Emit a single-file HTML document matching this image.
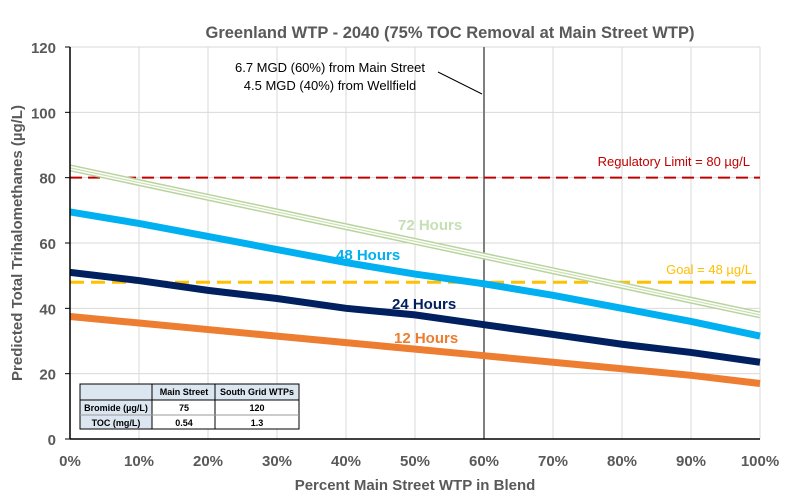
<!DOCTYPE html>
<html><head><meta charset="utf-8"><style>
body{margin:0;background:#fff;font-family:"Liberation Sans",sans-serif}
</style></head><body>
<svg id="c" width="796" height="497" xmlns="http://www.w3.org/2000/svg" font-family="Liberation Sans, sans-serif"></svg>
<script>
const categories=[0,10,20,30,40,50,60,70,80,90,100];
const h72=[83,78.5,74,69.5,65,60.5,56,51.5,47,42.5,38];
const h48=[69.5,66,62,58,54,50.5,47.5,44,40,36,31.5];
const h24=[51,48.5,45.5,43,40,38,35,32,29,26.5,23.5];
const h12=[37.5,35.5,33.5,31.5,29.5,27.5,25.5,23.5,21.5,19.5,17];
const yTicks=[0,20,40,60,80,100,120];
const regLimit=80, goal=48, blendMark=60;
const NS="http://www.w3.org/2000/svg";
const svg=document.getElementById('c');
const X0=70,X1=760,Y0=439,Y1=47;
const x=v=>X0+(X1-X0)*v/100;
const y=v=>Y0-(Y0-Y1)*v/120;
function el(t,a,p){const e=document.createElementNS(NS,t);for(const k in a)e.setAttribute(k,a[k]);(p||svg).appendChild(e);return e;}
let e;
categories.forEach(c=>{if(c>0){e=el('line',{x1:x(c),x2:x(c),y1:Y1,y2:Y0,stroke:'#d9d9d9'});

}});
yTicks.forEach(t=>{if(t>0){e=el('line',{x1:X0,x2:X1,y1:y(t),y2:y(t),stroke:'#d9d9d9'});

}
e=el('text',{x:X0-14,y:y(t)+6,'text-anchor':'end','font-size':15,'font-weight':'bold',fill:'#595959'});e.textContent=t;


el('line',{x1:X0-5,x2:X0,y1:y(t),y2:y(t),stroke:'#000'});});
categories.forEach(c=>{e=el('text',{x:x(c),y:466,'text-anchor':'middle','font-size':15,'font-weight':'bold',fill:'#595959'});e.textContent=c+'%';

});
e=el('line',{x1:x(blendMark),x2:x(blendMark),y1:Y1,y2:Y0,stroke:'#7f7f7f','stroke-width':2});


e=el('line',{x1:X0,x2:X1,y1:y(regLimit),y2:y(regLimit),stroke:'#c00000','stroke-width':2,'stroke-dasharray':'12,6'});


e=el('line',{x1:X0,x2:X1,y1:y(goal),y2:y(goal),stroke:'#ffc000','stroke-width':3,'stroke-dasharray':'14,7'});


function pts(a){return a.map((v,i)=>x(categories[i])+','+y(v)).join(' ');}
e=el('polyline',{points:pts(h72),fill:'none',stroke:'#b8d49a','stroke-width':7});


el('polyline',{points:pts(h72),fill:'none',stroke:'#fff','stroke-width':4});
el('polyline',{points:pts(h72),fill:'none',stroke:'#c9dfb3','stroke-width':1.2});
[[h48,'#00b0f0','series-48-hours'],[h24,'#002060','series-24-hours'],[h12,'#ed7d31','series-12-hours']].forEach(s=>{
e=el('polyline',{points:pts(s[0]),fill:'none',stroke:s[1],'stroke-width':7});

});
el('line',{x1:X0,x2:X0,y1:Y1,y2:Y0,stroke:'#000','stroke-width':1.5});
el('line',{x1:X0,x2:X1,y1:Y0,y2:Y0,stroke:'#000','stroke-width':1.5});
function txt(s,a,name){e=el('text',a);e.textContent=s;

return e;}
txt('Greenland WTP - 2040 (75% TOC Removal at Main Street WTP)',{x:450,y:38,'text-anchor':'middle','font-size':16.5,'font-weight':'bold',fill:'#595959'},'chart-title');
txt('Percent Main Street WTP in Blend',{x:415,y:490,'text-anchor':'middle','font-size':15,'font-weight':'bold',fill:'#595959'},'x-axis-title');
txt('Predicted Total Trihalomethanes (µg/L)',{x:0,y:0,transform:'translate(22,243) rotate(-90)','text-anchor':'middle','font-size':15,'font-weight':'bold',fill:'#595959'},'y-axis-title');
txt('72 Hours',{x:398,y:230,'font-size':15,'font-weight':'bold',fill:'#c5e0b4'},'label-72-hours');
txt('48 Hours',{x:336,y:260,'font-size':15,'font-weight':'bold',fill:'#00b0f0'},'label-48-hours');
txt('24 Hours',{x:392,y:309,'font-size':15,'font-weight':'bold',fill:'#002060'},'label-24-hours');
txt('12 Hours',{x:394,y:343,'font-size':15,'font-weight':'bold',fill:'#ed7d31'},'label-12-hours');
txt('Regulatory Limit = 80 µg/L',{x:750,y:166,'text-anchor':'end','font-size':13,fill:'#c00000'},'regulatory-limit-label');
txt('Goal = 48 µg/L',{x:752,y:274,'text-anchor':'end','font-size':13,fill:'#ffc000'},'goal-label');
txt('6.7 MGD (60%) from Main Street',{x:330,y:72,'text-anchor':'middle','font-size':13,fill:'#000'},'annotation-line1');
txt('4.5 MGD (40%) from Wellfield',{x:330,y:90,'text-anchor':'middle','font-size':13,fill:'#000'},'annotation-line2');
el('line',{x1:438,y1:72,x2:482,y2:94,stroke:'#000'});
const tg=el('g',{'font-size':9,'font-weight':'bold',fill:'#000'});


el('rect',{x:80,y:384,width:219,height:45,fill:'#fff',stroke:'#000'},tg);
el('rect',{x:80,y:384,width:72,height:45,fill:'#dce6f1'},tg);
el('rect',{x:152,y:384,width:147,height:16,fill:'#dce6f1'},tg);
el('rect',{x:80,y:384,width:219,height:45,fill:'none',stroke:'#000'},tg);
[[152,384,152,429],[215,384,215,429],[80,400,299,400]].forEach(l=>el('line',{x1:l[0],y1:l[1],x2:l[2],y2:l[3],stroke:'#000'},tg));
el('line',{x1:80,y1:415,x2:299,y2:415,stroke:'#999'},tg);
[['Main Street',184,395],['South Grid WTPs',257,395],['Bromide (µg/L)',116,411],['75',184,411],['120',257,411],['TOC (mg/L)',116,426],['0.54',184,426],['1.3',257,426]].forEach(t=>{const q=el('text',{x:t[1],y:t[2],'text-anchor':'middle'},tg);q.textContent=t[0];});
</script>
</body></html>
